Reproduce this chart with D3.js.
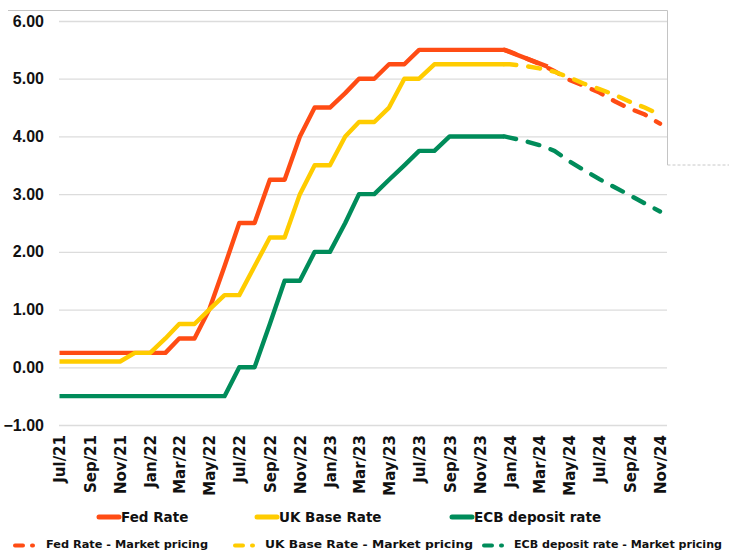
<!DOCTYPE html>
<html>
<head>
<meta charset="utf-8">
<script src="https://cdn.jsdelivr.net/npm/d3@7"></script>
<style>
  body { margin: 0; background: #fff; }
  svg { display: block; font-family: 'DejaVu Sans', sans-serif; font-weight: bold; }
</style>
</head>
<body>
<svg id="chart" width="729" height="551"></svg>
<script>
// actual policy rates, first of each month
const months = [
  '2021-07-01', '2021-08-01', '2021-09-01', '2021-10-01', '2021-11-01', '2021-12-01',
  '2022-01-01', '2022-02-01', '2022-03-01', '2022-04-01', '2022-05-01', '2022-06-01',
  '2022-07-01', '2022-08-01', '2022-09-01', '2022-10-01', '2022-11-01', '2022-12-01',
  '2023-01-01', '2023-02-01', '2023-03-01', '2023-04-01', '2023-05-01', '2023-06-01',
  '2023-07-01', '2023-08-01', '2023-09-01', '2023-10-01', '2023-11-01', '2023-12-01',
  '2023-12-21'
];
const fedRate = [
  0.25, 0.25, 0.25, 0.25, 0.25, 0.25,
  0.25, 0.25, 0.5, 0.5, 1.0, 1.75,
  2.5, 2.5, 3.25, 3.25, 4.0, 4.5,
  4.5, 4.75, 5.0, 5.0, 5.25, 5.25,
  5.5, 5.5, 5.5, 5.5, 5.5, 5.5,
  5.5
];
const ukRate = [
  0.1, 0.1, 0.1, 0.1, 0.1, 0.25,
  0.25, 0.5, 0.75, 0.75, 1.0, 1.25,
  1.25, 1.75, 2.25, 2.25, 3.0, 3.5,
  3.5, 4.0, 4.25, 4.25, 4.5, 5.0,
  5.0, 5.25, 5.25, 5.25, 5.25, 5.25,
  5.25
];
const ecbRate = [
  -0.5, -0.5, -0.5, -0.5, -0.5, -0.5,
  -0.5, -0.5, -0.5, -0.5, -0.5, -0.5,
  0, 0, 0.75, 1.5, 1.5, 2.0,
  2.0, 2.5, 3.0, 3.0, 3.25, 3.5,
  3.75, 3.75, 4.0, 4.0, 4.0, 4.0,
  4.0
];
// the solid Fed line runs on a little past the start of market pricing
const fedExtraDates = ['2024-03-18'];
const fedExtraRate = [5.21];

// market pricing
const pricingDates = [
  '2023-12-21', '2024-01-01', '2024-02-01', '2024-03-01', '2024-04-01', '2024-05-01',
  '2024-06-01', '2024-07-01', '2024-08-01', '2024-09-01', '2024-10-01', '2024-11-01'
];
const fedPricing = [5.5, 5.47, 5.36, 5.26, 5.13, 4.98, 4.87, 4.76, 4.61, 4.48, 4.38, 4.22];
const ukPricing = [5.25, 5.25, 5.22, 5.18, 5.12, 5.02, 4.91, 4.82, 4.72, 4.6, 4.5, 4.38];
const ecbPricing = [4.0, 3.98, 3.92, 3.85, 3.75, 3.57, 3.41, 3.26, 3.12, 2.98, 2.84, 2.7];

const yTicks = [-1, 0, 1, 2, 3, 4, 5, 6];

const names = ['Fed Rate', 'UK Base Rate', 'ECB deposit rate'];
const colors = ['#ff4c14', '#ffcc00', '#008c5a'];

const parse = d3.utcParse('%Y-%m-%d');
const zip = (dates, vals) => dates.map((d, i) => ({ date: parse(d), v: vals[i] }));

const solid = [
  zip(months.concat(fedExtraDates), fedRate.concat(fedExtraRate)),
  zip(months, ukRate),
  zip(months, ecbRate)
];
const dashed = [
  zip(pricingDates, fedPricing),
  zip(pricingDates, ukPricing),
  zip(pricingDates, ecbPricing)
];

const svg = d3.select('#chart');
const plotLeft = 59, plotRight = 667, plotTop = 21, plotBottom = 425;

const x = d3
  .scaleUtc()
  .domain([parse('2021-07-01'), parse('2024-11-01')])
  .range([59.5, 660]);

const y = d3
  .scaleLinear()
  .domain([-1, 6])
  .range([plotBottom, plotTop]);

// frame remnants
svg.append('path')
  .attr('d', `M8,10.5H${plotRight + 0.5}V165`)
  .attr('fill', 'none')
  .attr('stroke', '#c4c4c4')
  .attr('stroke-width', 1);
svg.append('line')
  .attr('x1', plotRight + 0.5).attr('x2', 729)
  .attr('y1', 165).attr('y2', 165)
  .attr('stroke', '#c8c8c8')
  .attr('stroke-dasharray', '3,2');

// y axis with gridlines
const yAxis = d3
  .axisLeft(y)
  .tickValues(yTicks)
  .tickFormat(d3.format('.2f'))
  .tickSize(-(plotRight - plotLeft))
  .tickPadding(15);

const gy = svg.append('g')
  .attr('transform', `translate(${plotLeft},0)`)
  .call(yAxis)
  .attr('font-family', "'Liberation Sans', Arial, sans-serif");
gy.select('.domain').remove();
gy.selectAll('.tick line')
  .attr('stroke', '#dcdcdc')
  .attr('stroke-width', 1.3);
gy.selectAll('.tick text')
  .attr('fill', '#111')
  .style('font-size', '16px')
  .style('font-weight', 'bold');

// x axis, rotated month labels
const xAxis = d3
  .axisBottom(x)
  .ticks(d3.utcMonth.every(2))
  .tickFormat(d3.utcFormat('%b/%y'))
  .tickSize(0);

const gx = svg.append('g')
  .attr('transform', `translate(0,${plotBottom})`)
  .call(xAxis)
  .attr('font-family', "'DejaVu Sans', sans-serif");
gx.select('.domain').remove();
gx.selectAll('.tick text')
  .attr('fill', '#111')
  .attr('y', 0)
  .attr('x', -10)
  .attr('dy', '0.36em')
  .attr('transform', 'rotate(-90)')
  .style('text-anchor', 'end')
  .style('font-size', '15px')
  .style('font-weight', 'bold');

const line = d3.line()
  .x(d => x(d.date))
  .y(d => y(d.v));

const lines = svg.append('g').attr('id', 'rate-lines');
solid.forEach((s, i) => {
  lines.append('path')
    .datum(s)
    .attr('d', line)
    .attr('fill', 'none')
    .attr('stroke', colors[i])
    .attr('stroke-width', 4.4)
    .attr('stroke-linejoin', 'round');
});
dashed.forEach((s, i) => {
  lines.append('path')
    .datum(s)
    .attr('d', line)
    .attr('fill', 'none')
    .attr('stroke', colors[i])
    .attr('stroke-width', 4.4)
    .attr('stroke-linecap', 'round')
    .attr('stroke-dasharray', '12,12');
});

// legend
const legend = svg.append('g').attr('id', 'legend');
const row1 = [97, 255, 450];
row1.forEach((lx, i) => {
  legend.append('line')
    .attr('x1', lx + 2).attr('x2', lx + 22)
    .attr('y1', 517).attr('y2', 517)
    .attr('stroke', colors[i])
    .attr('stroke-width', 5)
    .attr('stroke-linecap', 'round');
  legend.append('text')
    .attr('x', lx + 24)
    .attr('y', 521.5)
    .attr('fill', '#111')
    .style('font-size', '13.5px')
    .text(names[i]);
});

const row2 = [15, 235, 484];
const row2Text = [46, 265, 514];
const row2Width = [162, 208, 208];
row2.forEach((lx, i) => {
  legend.append('line')
    .attr('x1', lx).attr('x2', lx + 18)
    .attr('y1', 545.5).attr('y2', 545.5)
    .attr('stroke', colors[i])
    .attr('stroke-width', 4)
    .attr('stroke-linecap', 'round')
    .attr('stroke-dasharray', '8,9');
  legend.append('text')
    .attr('x', row2Text[i])
    .attr('y', 548)
    .attr('fill', '#111')
    .attr('textLength', row2Width[i])
    .attr('lengthAdjust', 'spacingAndGlyphs')
    .style('font-size', '11.3px')
    .text(names[i] + ' - Market pricing');
});
</script>
</body>
</html>
